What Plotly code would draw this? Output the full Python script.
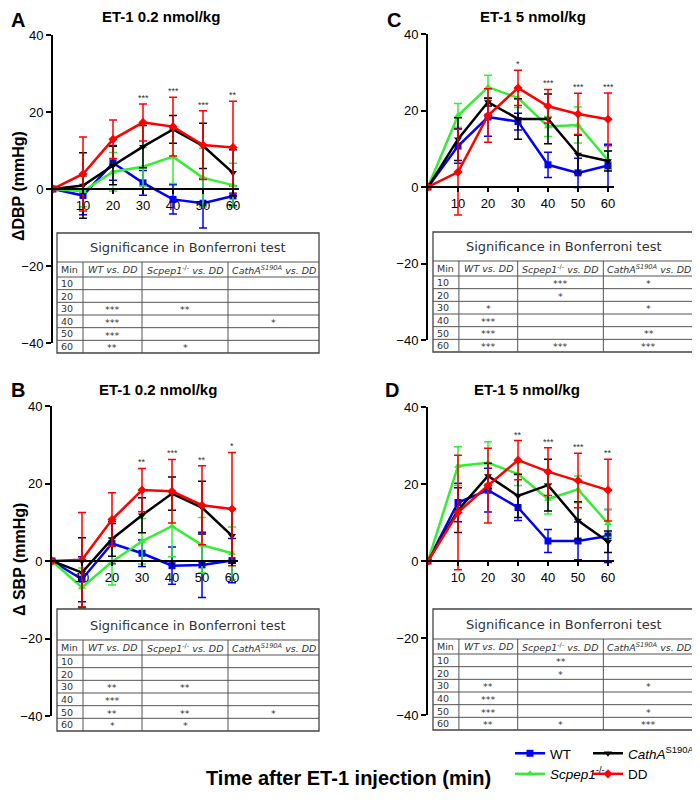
import plotly.graph_objects as go

# the page adds an 8px body margin; the figure is sized/offset to compensate
OFF = 8
W, H = 700 - OFF, 800 - OFF

# ---------------- data ----------------
times = [0, 10, 20, 30, 40, 50, 60]
groups = ["WT", "Scpep1", "CathA", "DD"]
group_names = {"WT": "WT", "Scpep1": "<i>Scpep1</i><sup>-/-</sup>",
               "CathA": "<i>CathA</i><sup>S190A</sup>", "DD": "DD"}

# Panel A: ΔDBP, ET-1 0.2 nmol/kg
A_WT = [0, -1.7, 6.8, 1.6, -2.7, -3.7, -1.8]
A_WT_err = [0, 5.0, 4.5, 3.2, 3.8, 6.4, 2.5]
A_Scpep1 = [0, -0.6, 4.5, 5.8, 8.4, 2.9, 1.0]
A_Scpep1_err = [0, 4.0, 5.0, 5.0, 7.0, 7.6, 5.7]
A_CathA = [0, 0.9, 6.1, 11.0, 15.5, 11.2, 4.2]
A_CathA_err = [0, 8.5, 5.0, 5.5, 3.6, 5.9, 6.0]
A_DD = [0, 3.9, 12.9, 17.3, 16.2, 11.4, 10.8]
A_DD_err = [0, 9.6, 5.0, 4.8, 7.6, 8.9, 12.0]
A_stars = ["", "", "", "***", "***", "***", "**"]

# Panel C: ΔDBP, ET-1 5 nmol/kg
C_WT = [0, 10.7, 18.3, 17.1, 5.8, 3.7, 5.6]
C_WT_err = [0, 4.5, 5.0, 2.2, 3.3, 3.8, 5.6]
C_Scpep1 = [0, 18.7, 26.1, 23.3, 15.8, 16.2, 7.0]
C_Scpep1_err = [0, 3.1, 3.1, 2.5, 2.6, 4.7, 2.5]
C_CathA = [0, 12.5, 22.2, 17.8, 17.8, 8.5, 6.8]
C_CathA_err = [0, 5.6, 1.0, 5.3, 6.5, 5.0, 2.6]
C_DD = [0, 3.9, 18.7, 25.9, 21.1, 19.1, 17.7]
C_DD_err = [0, 11.2, 7.0, 4.6, 4.4, 5.4, 6.9]
C_stars = ["", "", "", "*", "***", "***", "***"]

# Panel B: ΔSBP, ET-1 0.2 nmol/kg
B_WT = [0, -4.7, 4.5, 2.0, -1.2, -1.0, 0.1]
B_WT_err = [0, 5.8, 5.2, 3.4, 4.8, 8.4, 5.7]
B_Scpep1 = [0, -6.8, -0.2, 5.1, 9.0, 4.1, 2.0]
B_Scpep1_err = [0, 5.0, 6.0, 5.9, 7.9, 7.1, 6.8]
B_CathA = [0, -3.0, 5.7, 11.8, 17.4, 13.8, 6.5]
B_CathA_err = [0, 9.0, 4.5, 4.5, 4.3, 6.8, 7.0]
B_DD = [0, 0.3, 10.7, 18.3, 18.0, 14.4, 13.4]
B_DD_err = [0, 12.2, 6.9, 5.6, 8.2, 10.2, 14.6]
B_stars = ["", "", "", "**", "***", "**", "*"]

# Panel D: ΔSBP, ET-1 5 nmol/kg
D_WT = [0, 15.2, 18.4, 13.9, 5.2, 5.2, 6.5]
D_WT_err = [0, 5.0, 5.7, 3.4, 3.0, 4.9, 6.9]
D_Scpep1 = [0, 24.7, 25.5, 22.6, 16.1, 18.6, 9.8]
D_Scpep1_err = [0, 5.0, 5.5, 3.0, 3.9, 3.5, 3.6]
D_CathA = [0, 13.2, 22.1, 16.9, 19.7, 10.5, 5.0]
D_CathA_err = [0, 5.8, 3.3, 5.6, 6.7, 4.9, 2.8]
D_DD = [0, 12.6, 19.6, 26.2, 23.2, 20.9, 18.4]
D_DD_err = [0, 14.9, 9.7, 5.1, 6.2, 7.1, 8.0]
D_stars = ["", "", "", "**", "***", "***", "**"]

# Bonferroni tables
table_min = ["10", "20", "30", "40", "50", "60"]
table_header = ["Min", "<i>WT vs. DD</i>", "<i>Scpep1</i><sup>-/-</sup><i> vs. DD</i>",
                "<i>CathA<sup>S190A</sup> vs. DD</i>"]
table_title = "Significance in Bonferroni test"
A_tab_WT = ["", "", "***", "***", "***", "**"]
A_tab_Scpep1 = ["", "", "**", "", "", "*"]
A_tab_CathA = ["", "", "", "*", "", ""]
C_tab_WT = ["", "", "*", "***", "***", "***"]
C_tab_Scpep1 = ["***", "*", "", "", "", "***"]
C_tab_CathA = ["*", "", "*", "", "**", "***"]
B_tab_WT = ["", "", "**", "***", "**", "*"]
B_tab_Scpep1 = ["", "", "**", "", "**", "*"]
B_tab_CathA = ["", "", "", "", "*", ""]
D_tab_WT = ["", "", "**", "***", "***", "**"]
D_tab_Scpep1 = ["**", "*", "", "", "", "*"]
D_tab_CathA = ["", "", "*", "", "*", "***"]

# ---------------- styles ----------------
colors = {"WT": "#0000FF", "Scpep1": "#33EE33", "CathA": "#000000", "DD": "#FF0000"}
symbols = {"WT": "square", "Scpep1": "triangle-up", "CathA": "triangle-down", "DD": "diamond"}
legend_of = {"WT": "legend", "Scpep1": "legend", "CathA": "legend2", "DD": "legend2"}
col_frac = [26, 59, 86, 91]  # relative column widths of the tables
TFONT = "DejaVu Sans"
TCOL = "#333333"
LCOL = "#555555"


def px_x(p):
    return (p - OFF) / W


def px_y(p):
    return 1 - (p - OFF) / H


panels = [
    dict(key="A", ax="", xd=(53, 239), yd=(35, 343),
         data={"WT": (A_WT, A_WT_err), "Scpep1": (A_Scpep1, A_Scpep1_err),
               "CathA": (A_CathA, A_CathA_err), "DD": (A_DD, A_DD_err)},
         stars=A_stars, title="ET-1 0.2 nmol/kg", lab=(9, 20), tpos=(161, 17),
         tab=(A_tab_WT, A_tab_Scpep1, A_tab_CathA), tx=(57, 319), ty=(233, 262, 277, 353)),
    dict(key="C", ax="2", xd=(428, 614), yd=(34, 340),
         data={"WT": (C_WT, C_WT_err), "Scpep1": (C_Scpep1, C_Scpep1_err),
               "CathA": (C_CathA, C_CathA_err), "DD": (C_DD, C_DD_err)},
         stars=C_stars, title="ET-1 5 nmol/kg", lab=(385, 20), tpos=(533, 17),
         tab=(C_tab_WT, C_tab_Scpep1, C_tab_CathA), tx=(433, 694), ty=(232, 261, 276, 352)),
    dict(key="B", ax="3", xd=(52, 238), yd=(406, 716),
         data={"WT": (B_WT, B_WT_err), "Scpep1": (B_Scpep1, B_Scpep1_err),
               "CathA": (B_CathA, B_CathA_err), "DD": (B_DD, B_DD_err)},
         stars=B_stars, title="ET-1 0.2 nmol/kg", lab=(9, 390), tpos=(158, 390),
         tab=(B_tab_WT, B_tab_Scpep1, B_tab_CathA), tx=(57, 319), ty=(609, 640, 655, 731)),
    dict(key="D", ax="4", xd=(428, 614), yd=(407, 715),
         data={"WT": (D_WT, D_WT_err), "Scpep1": (D_Scpep1, D_Scpep1_err),
               "CathA": (D_CathA, D_CathA_err), "DD": (D_DD, D_DD_err)},
         stars=D_stars, title="ET-1 5 nmol/kg", lab=(383, 390), tpos=(527, 390),
         tab=(D_tab_WT, D_tab_Scpep1, D_tab_CathA), tx=(433, 694), ty=(609, 639, 654, 730)),
]

fig = go.Figure()
annotations = []
shapes = []
layout_axes = {}


def pline(x0, y0, x1, y1, width=1, color=LCOL):
    shapes.append(dict(type="line", xref="paper", yref="paper",
                       x0=px_x(x0), y0=px_y(y0), x1=px_x(x1), y1=px_y(y1),
                       line=dict(color=color, width=width), layer="below"))


def ptext(x, y, text, size, xanchor="center", family=TFONT, color=TCOL, angle=0):
    annotations.append(dict(x=px_x(x), y=px_y(y), xref="paper", yref="paper", text=text,
                            showarrow=False, xanchor=xanchor, yanchor="middle", textangle=angle,
                            font=dict(family=family, size=size, color=color)))


def draw_table(tx, ty, cols):
    x0, x1 = tx
    t0, t1, t2, t3 = ty
    tot = sum(col_frac)
    bounds = [x0]
    for f in col_frac:
        bounds.append(bounds[-1] + (x1 - x0) * f / tot)
    nrows = len(table_min)
    rh = (t3 - t2) / nrows
    shapes.append(dict(type="rect", xref="paper", yref="paper",
                       x0=px_x(x0), y0=px_y(t3), x1=px_x(x1), y1=px_y(t0),
                       line=dict(color="#444444", width=1.3), fillcolor="white", layer="below"))
    pline(x0, t1, x1, t1, 1.2)
    pline(x0, t2, x1, t2, 1)
    for r in range(1, nrows):
        pline(x0, t2 + r * rh, x1, t2 + r * rh, 1)
    for b in bounds[1:-1]:
        pline(b, t1, b, t3, 1)
    ptext((x0 + x1) / 2, (t0 + t1) / 2 + 0.5, table_title, 13)
    for c, h in enumerate(table_header):
        if c == 0:
            ptext(bounds[0] + 2, (t1 + t2) / 2, h, 9.5, xanchor="left")
        else:
            ptext((bounds[c] + bounds[c + 1]) / 2, (t1 + t2) / 2, h, 9.5)
    all_cols = [table_min] + list(cols)
    for c, col in enumerate(all_cols):
        for r, v in enumerate(col):
            if not v:
                continue
            yc = t2 + (r + 0.5) * rh
            if c == 0:
                ptext(bounds[0] + 2, yc, v, 9.5, xanchor="left")
            else:
                ptext((bounds[c] + bounds[c + 1]) / 2, yc + 1, v, 9.5)


for i, p in enumerate(panels):
    xa = "x" + p["ax"]
    ya = "y" + p["ax"]
    draw_table(p["tx"], p["ty"], p["tab"])

    for g in groups:
        vals, errs = p["data"][g]
        fig.add_trace(go.Scatter(
            x=times, y=vals, mode="lines+markers", name=group_names[g],
            xaxis=xa, yaxis=ya,
            line=dict(color=colors[g], width=2.5),
            marker=dict(symbol=symbols[g], size=7, color=colors[g]),
            error_y=dict(type="data", array=errs, color=colors[g], thickness=1.5, width=4),
            showlegend=(i == 0), legend=legend_of[g],
        ))

    dd_vals, dd_errs = p["data"]["DD"]
    for t, v, e, s in zip(times, dd_vals, dd_errs, p["stars"]):
        if s:
            annotations.append(dict(x=t, y=v + e, xref=xa, yref=ya, text=s, showarrow=False,
                                    xanchor="center", yanchor="middle", yshift=6,
                                    font=dict(family="Arial", size=9, color="#333333")))

    y0d, y1d = px_y(p["yd"][1]), px_y(p["yd"][0])
    xkey = "xaxis" + p["ax"]
    ykey = "yaxis" + p["ax"]
    layout_axes[xkey] = dict(
        domain=[px_x(p["xd"][0]), px_x(p["xd"][1])], range=[0, 62],
        anchor="free", position=(y0d + y1d) / 2, automargin=False,
        showline=True, linecolor="black", linewidth=2,
        tickvals=[10, 20, 30, 40, 50, 60], ticks="outside", ticklen=4, tickwidth=2,
        tickcolor="black", tickfont=dict(family="Arial", size=13, color="black"),
        showgrid=False, zeroline=False, fixedrange=True,
    )
    layout_axes[ykey] = dict(
        domain=[y0d, y1d], range=[-40, 40], anchor=xa, automargin=False,
        showline=True, linecolor="black", linewidth=2,
        tickvals=[-40, -20, 0, 20, 40], ticks="outside", ticklen=5, tickwidth=2,
        tickcolor="black", tickfont=dict(family="Arial", size=13, color="black"),
        showgrid=False, zeroline=False, fixedrange=True,
    )

    ptext(p["lab"][0], p["lab"][1], "<b>%s</b>" % p["key"], 20, xanchor="left",
          family="Arial", color="black")
    ptext(p["tpos"][0], p["tpos"][1], "<b>%s</b>" % p["title"], 15,
          family="Arial", color="black")

ptext(19, 186, "<b>ΔDBP (mmHg)</b>", 16, family="Arial", color="black", angle=-90)
ptext(19, 560, "<b>Δ SBP (mmHg)</b>", 16, family="Arial", color="black", angle=-90)
ptext(348, 778, "<b>Time after ET-1 injection (min)</b>", 20, family="Arial", color="black")

legend_common = dict(orientation="v", yanchor="middle", xanchor="left", tracegroupgap=0,
                     font=dict(family="Arial", size=13.5, color="black"),
                     bgcolor="rgba(0,0,0,0)", itemclick=False, itemdoubleclick=False)

fig.update_layout(
    template="none",
    width=W, height=H, margin=dict(l=0, r=0, t=0, b=0, autoexpand=False),
    paper_bgcolor="white", plot_bgcolor="rgba(0,0,0,0)",
    annotations=annotations, shapes=shapes,
    legend=dict(x=px_x(510), y=px_y(764), **legend_common),
    legend2=dict(x=px_x(588), y=px_y(764), **legend_common),
    **layout_axes,
)

fig.write_html("out.html")
